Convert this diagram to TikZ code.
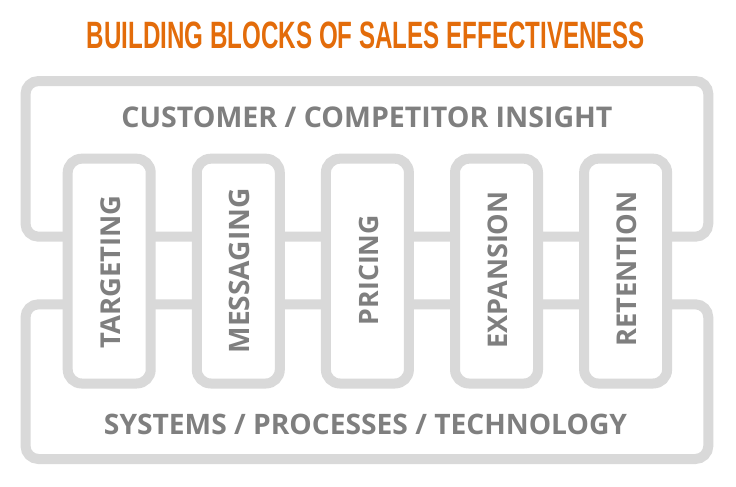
\documentclass[tikz,border=0pt]{standalone}
\usepackage{fontspec}
\setmainfont{Open Sans}
\newfontfamily\titlefont{Liberation Sans}
\usepackage{graphicx}
\definecolor{framegray}{HTML}{D9D9D9}
\definecolor{txtgray}{HTML}{7F7F7F}
\definecolor{orng}{HTML}{E36C0A}
\begin{document}
\begin{tikzpicture}[x=1pt,y=-1pt,
  bar/.style={draw=framegray,line width=10pt,rounded corners=13pt},
  pillar/.style={draw=framegray,fill=white,line width=10pt,rounded corners=14pt},
  lbl/.style={text=txtgray,font=\bfseries,inner sep=0pt,anchor=base},
  vlbl/.style={lbl,rotate=90}]
\useasboundingbox[fill=white] (0,0) rectangle (736,487);
\node[anchor=base,inner sep=0pt,text=orng] (title) at (366,48.3)
  {\resizebox{558pt}{26.6pt}{\titlefont\bfseries BUILDING BLOCKS OF SALES EFFECTIVENESS}};
% frames
\draw[bar] (25.5,81) rectangle (708.3,236.7);
\draw[bar] (25.5,304.3) rectangle (708.3,459);
% pillars
\foreach \i in {0,...,4}{
  \draw[pillar] ({67.7+129.1*\i},158.7) rectangle ({150.7+129.1*\i},383.5);
}
\node[lbl] (insight) at (367,127.5) {\resizebox{491pt}{!}{CUSTOMER / COMPETITOR INSIGHT}};
\node[lbl] (systems) at (365.5,434.5) {\resizebox{523pt}{!}{SYSTEMS / PROCESSES / TECHNOLOGY}};
\node[vlbl] (targeting) at (120.4,271.7) {\resizebox{153pt}{!}{TARGETING}};
\node[vlbl] (messaging) at (249.6,270.8) {\resizebox{165pt}{!}{MESSAGING}};
\node[vlbl] (pricing) at (378.4,270) {\resizebox{110pt}{!}{PRICING}};
\node[vlbl] (expansion) at (507.6,270) {\resizebox{157pt}{!}{EXPANSION}};
\node[vlbl] (retention) at (636.3,269.2) {\resizebox{155pt}{!}{RETENTION}};
\end{tikzpicture}
\end{document}
